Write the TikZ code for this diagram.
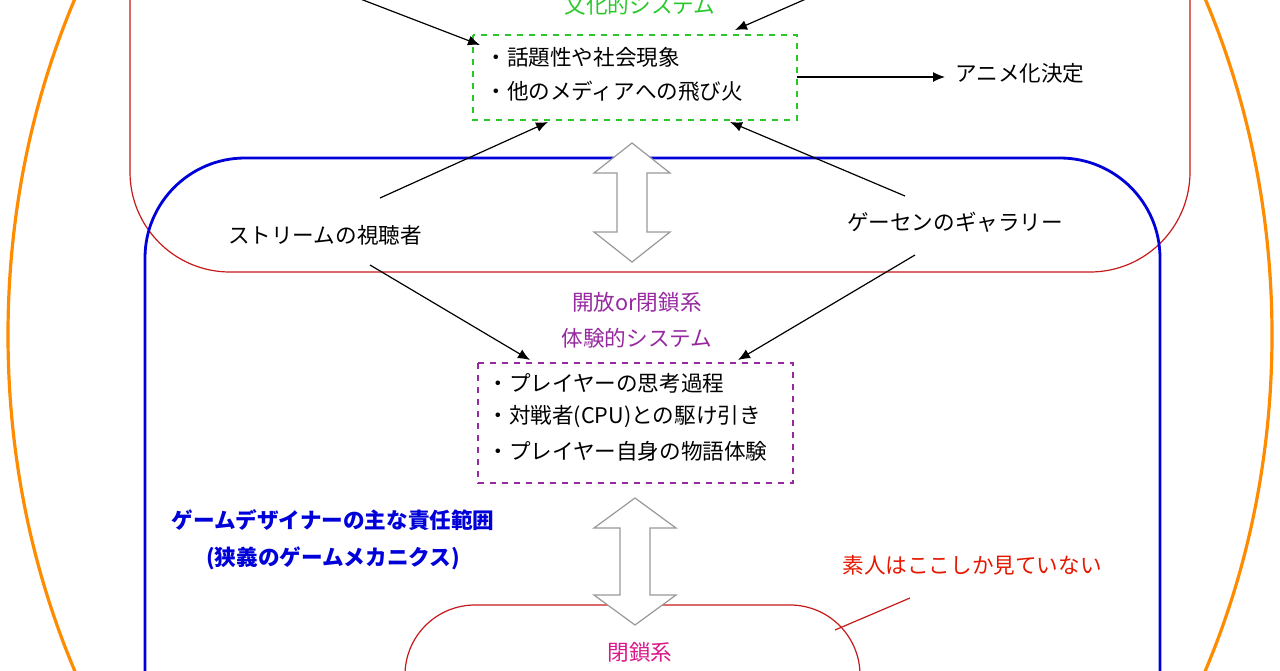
\documentclass[tikz,border=0pt]{standalone}
\usepackage{fontspec}
\setmainfont{Noto Sans CJK JP}
\usetikzlibrary{arrows.meta}
\begin{document}
\begin{tikzpicture}[x=0.5pt,y=-0.5pt,font=\fontsize{10.8}{12}\selectfont,
  arr/.style={-{Latex[length=6pt,width=5pt]},line width=0.6pt},
  dbl/.style={draw=gray!80,line width=0.6pt,fill=white},
  lbl/.style={inner sep=1pt}]
\definecolor{grn}{RGB}{40,200,40}
\definecolor{pur}{RGB}{150,40,160}
\useasboundingbox (0,0) rectangle (1280,670);
\begin{scope}
\clip (0,0) rectangle (1280,670);
\draw[orange!90!yellow,line width=1.6pt] (640,335) ellipse [x radius=632, y radius=750];
\draw[red!75!black!90,line width=0.6pt,rounded corners=50pt] (130,-250) rectangle (1190,272);
\draw[blue!85!black,line width=1.4pt,rounded corners=50pt] (145,158) rectangle (1160,900);
\draw[red!75!black!90,line width=0.6pt,rounded corners=35pt] (405,605) rectangle (860,850);
\coordinate (tl) at (350,-5);
\coordinate (tr) at (815,-5);
\end{scope}
% green box
\draw[grn,dashed,line width=0.7pt] (473,35) rectangle (797,120);
\coordinate (cult) at (797,77);
\node[lbl,anchor=west] (c1) at (483,57) {・話題性や社会現象};
\node[lbl,anchor=west] (c2) at (483,91) {・他のメディアへの飛び火};
\node[text=grn,lbl] (ct) at (640,5) {文化的システム};
\draw[arr] (tl) -- (480,45);
\draw[arr] (tr) -- (735,30);
\node[lbl] (anime) at (1020,73) {アニメ化決定};
\draw[arr] (cult) -- (945,77);
\node[lbl] (stream) at (325,235) {ストリームの視聴者};
\node[lbl] (gal) at (955,222) {ゲーセンのギャラリー};
\draw[arr] (380,198) -- (548,122);
\draw[arr] (905,196) -- (730,122);
\draw[arr] (370,265) -- (530,360);
\draw[arr] (915,255) -- (738,360);
% double arrows
\draw[dbl] (632,143) -- (670,173) -- (647,173) -- (647,232) -- (670,232) -- (632,262) -- (594,232) -- (617,232) -- (617,173) -- (594,173) -- cycle;
\draw[dbl] (635,498) -- (676,528) -- (650,528) -- (650,595) -- (676,595) -- (635,625) -- (594,595) -- (620,595) -- (620,528) -- (594,528) -- cycle;
% experiential
\node[text=pur,lbl] (o1) at (637,302) {開放or閉鎖系};
\node[text=pur,lbl] (o2) at (637,338) {体験的システム};
\draw[pur,dashed,line width=0.7pt] (478,363) rectangle (793,483);
\node[lbl,anchor=west] (e1) at (485,383) {・プレイヤーの思考過程};
\node[lbl,anchor=west] (e2) at (485,417) {・対戦者(CPU)との駆け引き};
\node[lbl,anchor=west] (e3) at (485,451) {・プレイヤー自身の物語体験};
\node[text=blue!85!black,font=\fontsize{10.8}{12}\selectfont\bfseries,lbl] (b1) at (333,520) {ゲームデザイナーの主な責任範囲};
\node[text=blue!85!black,font=\fontsize{10.8}{12}\selectfont\bfseries,lbl] (b2) at (333,558) {(狭義のゲームメカニクス)};
\node[text=red!80!orange!90!black,lbl] (am) at (972,565) {素人はここしか見ていない};
\coordinate (amp) at (835,630);
\draw[red!75!black!90,line width=0.6pt] (910,598) -- (amp);
\node[text=magenta!80!violet,lbl] (cl) at (640,652) {閉鎖系};
\end{tikzpicture}
\end{document}
